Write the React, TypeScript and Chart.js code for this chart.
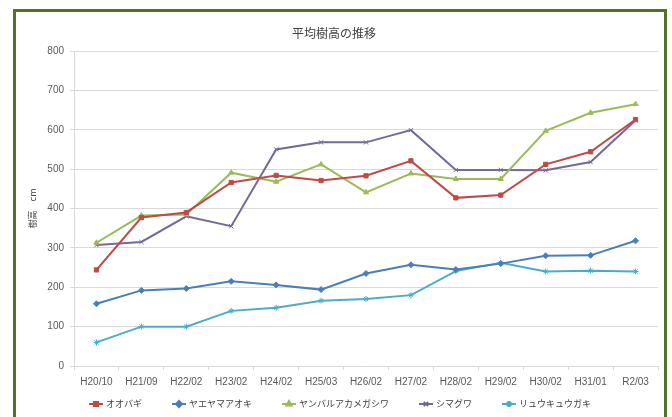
import React, { useEffect, useRef } from "react";
import { Chart, registerables } from "chart.js";
import { drawPoint } from "chart.js/helpers";

Chart.register(...registerables);

const categories = ["H20/10", "H21/09", "H22/02", "H23/02", "H24/02", "H25/03", "H26/02", "H27/02", "H28/02", "H29/02", "H30/02", "H31/01", "R2/03"];
const oobagi = [244, 377, 390, 466, 484, 471, 483, 521, 427, 434, 512, 544, 626];
const yaeyamaAoki = [158, 192, 197, 215, 206, 194, 235, 257, 245, 260, 280, 281, 318];
const yanbaruAkamegashiwa = [313, 382, 385, 491, 468, 512, 441, 489, 475, 475, 597, 643, 665];
const shimaguwa = [307, 315, 380, 355, 550, 568, 568, 599, 498, 498, 497, 518, 624];
const ryukyuGaki = [60, 100, 100, 140, 148, 166, 170, 180, 241, 262, 240, 242, 240];

const seriesNames = ["オオバギ", "ヤエヤマアオキ", "ヤンバルアカメガシワ", "シマグワ", "リュウキュウガキ"];
const seriesValues = [oobagi, yaeyamaAoki, yanbaruAkamegashiwa, shimaguwa, ryukyuGaki];
const seriesColors = ["#be4b48", "#4a7ebb", "#9bbb59", "#75689a", "#4bacc6"];
const seriesMarkers = ["rect", "rectRot", "triangle", "crossRot", "star"];

const chartTitle = "平均樹高の推移";
const yAxisTitle = "樹高　cm";

const JP = '"Noto Sans CJK JP", "Liberation Sans", sans-serif';
const LAT = '"Liberation Sans", "Noto Sans CJK JP", sans-serif';

const decorPlugin = {
  id: "decor",
  afterDraw(chart: any) {
    const ctx = chart.ctx as CanvasRenderingContext2D;
    ctx.save();
    // frame
    ctx.strokeStyle = "#56702c";
    ctx.lineWidth = 3;
    ctx.beginPath();
    ctx.moveTo(14.5, 430);
    ctx.lineTo(14.5, 10.5);
    ctx.lineTo(665.5, 10.5);
    ctx.lineTo(665.5, 430);
    ctx.stroke();
    // title
    ctx.fillStyle = "#404040";
    ctx.font = `12px ${JP}`;
    ctx.textAlign = "center";
    ctx.textBaseline = "middle";
    ctx.fillText(chartTitle, 334, 33);
    // legend
    ctx.font = `9px ${JP}`;
    const sampleW = 14;
    const gapText = 3;
    const gapItem = 30;
    const widths = seriesNames.map((n) => sampleW + gapText + ctx.measureText(n).width);
    const total = widths.reduce((a, b) => a + b, 0) + gapItem * (widths.length - 1);
    let x = 340 - total / 2;
    const y = 404;
    seriesNames.forEach((name, i) => {
      ctx.strokeStyle = seriesColors[i];
      ctx.lineWidth = 2;
      ctx.beginPath();
      ctx.moveTo(x, y);
      ctx.lineTo(x + sampleW, y);
      ctx.stroke();
      ctx.fillStyle = seriesColors[i];
      drawPoint(ctx, { pointStyle: seriesMarkers[i], radius: 3, rotation: 0, borderWidth: 1 } as any, x + sampleW / 2, y);
      ctx.fillStyle = "#404040";
      ctx.textAlign = "left";
      ctx.textBaseline = "middle";
      ctx.fillText(name, x + sampleW + gapText, y);
      x += widths[i] + gapItem;
    });
    ctx.restore();
  },
};

export default function App() {
  const ref = useRef<HTMLCanvasElement | null>(null);
  useEffect(() => {
    if (!ref.current) return;
    const chart = new Chart(ref.current, {
      type: "line",
      data: {
        labels: categories,
        datasets: seriesValues.map((vals, i) => ({
          label: seriesNames[i],
          data: vals,
          borderColor: seriesColors[i],
          backgroundColor: seriesColors[i],
          pointBorderColor: seriesColors[i],
          pointBackgroundColor: seriesColors[i],
          pointStyle: seriesMarkers[i] as any,
          pointRadius: 3,
          pointBorderWidth: 1,
          borderWidth: 2,
          tension: 0,
          fill: false,
        })),
      },
      options: {
        animation: false,
        responsive: false,
        maintainAspectRatio: false,
        layout: { padding: { left: 0, top: 51, right: 14, bottom: 0 } },
        plugins: {
          legend: { display: false },
          title: { display: false },
          tooltip: { enabled: false },
        },
        scales: {
          x: {
            offset: true,
            grid: { display: true, drawOnChartArea: false, offset: true, tickLength: 4, color: "#d9d9d9" },
            border: { display: true, color: "#d9d9d9" },
            ticks: { color: "#595959", font: { family: LAT, size: 10 }, padding: 6, maxRotation: 0, autoSkip: false },
            afterFit: (s: any) => { s.height = 51; },
          },
          y: {
            min: 0,
            max: 800,
            ticks: { stepSize: 100, color: "#595959", font: { family: LAT, size: 10 }, padding: 6 },
            grid: { color: "#d9d9d9", tickLength: 4 },
            border: { display: true, color: "#d9d9d9" },
            title: { display: true, text: yAxisTitle, color: "#404040", font: { family: JP, size: 9 }, padding: { top: 27.5, bottom: 0 } },
            afterFit: (s: any) => { s.width = 74; },
          },
        },
      },
      plugins: [decorPlugin],
    });
    return () => chart.destroy();
  }, []);
  return (
    <div style={{ position: "fixed", left: 0, top: 0, width: 672, height: 417, background: "#ffffff" }}>
      <canvas ref={ref} width={672} height={417} style={{ display: "block", width: 672, height: 417 }} />
    </div>
  );
}
